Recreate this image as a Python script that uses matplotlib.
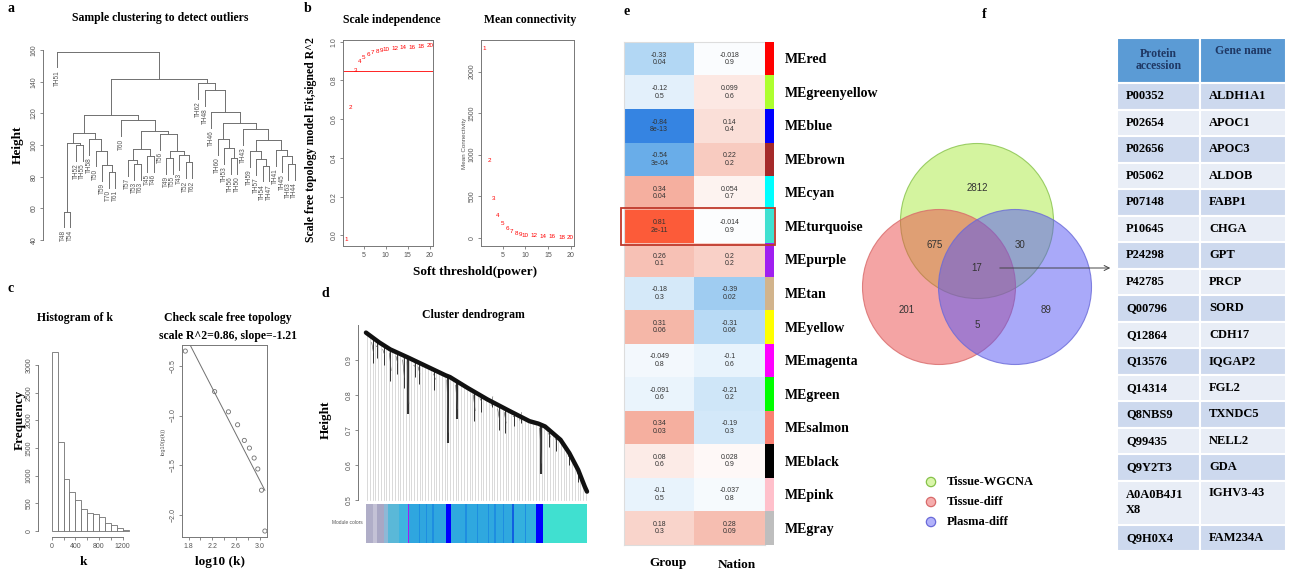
import numpy as np
import matplotlib
matplotlib.use("Agg")
import matplotlib.pyplot as plt
from matplotlib.patches import Ellipse, Rectangle
from matplotlib.colors import LinearSegmentedColormap

# ---------------- data ----------------
# a: sample dendrogram, (left, right, merge height)
sample_tree = ("TH51",
    ((((("T48", "T54", 58), ("TH52", "TH55", 100), 101),
       ("TH58", ("T50", ("T59", ("T70", "T61", 83), 87.5), 96.5), 104), 107.5),
      ("T60",
       ((("T57", ("T53", "T63", 88), 90.5), ("T45", "T46", 93), 97.5),
        ("T56", (("T49", "T55", 92), ("T43", ("T52", "T62", 89), 94), 96.5), 107), 109),
       115.5), 119),
     ("TH62",
      ("TH48",
       ("TH46",
        (("TH60", ("TH53", ("TH56", "TH50", 92), 98), 104),
         ("TH43",
          (("TH59", ("TH57", ("TH54", "TH47", 87), 91), 96),
           ("TH41", ("TH45", ("TH63", "TH44", 88), 93), 97), 103), 110), 114),
        121), 134.5), 139), 141.5),
    159)

# b: soft threshold
powers = [1, 2, 3, 4, 5, 6, 7, 8, 9, 10, 12, 14, 16, 18, 20]
sft_r2 = [-0.02, 0.66, 0.85, 0.90, 0.92, 0.935, 0.945, 0.95, 0.955, 0.96, 0.965, 0.97, 0.972, 0.975, 0.978]
mean_k = [2280, 925, 467, 268, 170, 110, 75, 55, 42, 33, 22, 15, 11, 8, 6]
r2_cut = 0.85

# c: connectivity histogram + scale free fit
hist_edges = [0, 100, 200, 300, 400, 500, 600, 700, 800, 900, 1000, 1100, 1200, 1300]
hist_counts = [3230, 1610, 940, 695, 556, 390, 315, 297, 255, 145, 103, 42, 12]
log_k = [1.743, 2.24, 2.474, 2.629, 2.743, 2.829, 2.909, 2.971, 3.034, 3.091]
log_pk = [-0.353, -0.76, -0.963, -1.093, -1.25, -1.327, -1.427, -1.537, -1.75, -2.16]

# d: gene dendrogram (envelope, droops) and module colours
env_x = [0.0, 0.06, 0.11, 0.19, 0.27, 0.36, 0.38, 0.46, 0.55, 0.65, 0.74, 0.78, 0.81, 0.88, 0.92, 0.96, 0.99, 1.0]
env_h = [0.978, 0.95, 0.93, 0.907, 0.883, 0.856, 0.851, 0.82, 0.787, 0.754, 0.725, 0.718, 0.71, 0.672, 0.634, 0.586, 0.538, 0.524]
droops = [(0.03, 0.96, 0.89), (0.05, 0.95, 0.905), (0.08, 0.94, 0.885), (0.11, 0.93, 0.84),
          (0.14, 0.92, 0.86), (0.17, 0.91, 0.82), (0.19, 0.905, 0.745), (0.22, 0.895, 0.85),
          (0.24, 0.89, 0.83), (0.31, 0.87, 0.815), (0.37, 0.853, 0.663), (0.41, 0.838, 0.73),
          (0.49, 0.81, 0.725), (0.52, 0.80, 0.75), (0.57, 0.78, 0.765), (0.60, 0.77, 0.70),
          (0.63, 0.76, 0.69), (0.67, 0.748, 0.71), (0.70, 0.738, 0.72), (0.79, 0.715, 0.575),
          (0.83, 0.70, 0.65), (0.86, 0.685, 0.64), (0.92, 0.634, 0.60), (0.96, 0.586, 0.55)]
module_segments = [(0.00, 0.03, "#b0aec8"), (0.03, 0.05, "#c4c2d6"), (0.05, 0.08, "#a9a7c4"),
                   (0.08, 0.10, "#8fb8d6"), (0.10, 0.15, "#5ab8d8"), (0.15, 0.19, "#3fb4e0"),
                   (0.19, 0.196, "#a020f0"), (0.196, 0.36, "#2fa6df"), (0.36, 0.385, "#0000ff"),
                   (0.385, 0.66, "#2fa8df"), (0.66, 0.668, "#1060e0"), (0.668, 0.77, "#33b0de"),
                   (0.77, 0.80, "#0000ff"), (0.80, 1.0, "#40e0d0")]
module_stripes = [0.24, 0.27, 0.30, 0.45, 0.50, 0.55, 0.58, 0.62, 0.72]

# e: module-trait relationships
modules = ["MEred", "MEgreenyellow", "MEblue", "MEbrown", "MEcyan", "MEturquoise", "MEpurple",
           "MEtan", "MEyellow", "MEmagenta", "MEgreen", "MEsalmon", "MEblack", "MEpink", "MEgray"]
module_colors = ["#FF0000", "#ADFF2F", "#0000FF", "#A52A2A", "#00FFFF", "#40E0D0", "#A020F0",
                 "#D2B48C", "#FFFF00", "#FF00FF", "#00FF00", "#FA8072", "#000000", "#FFC0CB", "#BEBEBE"]
traits = ["Group", "Nation"]
group_r = [-0.33, -0.12, -0.84, -0.54, 0.34, 0.81, 0.26, -0.18, 0.31, -0.049, -0.091, 0.34, 0.08, -0.1, 0.18]
group_p = ["0.04", "0.5", "8e-13", "3e-04", "0.04", "2e-11", "0.1", "0.3", "0.06", "0.8", "0.6", "0.03", "0.6", "0.5", "0.3"]
nation_r = [-0.018, 0.099, 0.14, 0.22, 0.054, -0.014, 0.2, -0.39, -0.31, -0.1, -0.21, -0.19, 0.028, -0.037, 0.28]
nation_p = ["0.9", "0.6", "0.4", "0.2", "0.7", "0.9", "0.2", "0.02", "0.06", "0.6", "0.2", "0.3", "0.9", "0.8", "0.09"]
highlight = "MEturquoise"

# f: venn + table
venn_sets = ["Tissue-WGCNA", "Tissue-diff", "Plasma-diff"]
venn_counts = {"G": 2812, "GR": 675, "GB": 30, "GRB": 17, "R": 201, "RB": 5, "B": 89}
accessions = ["P00352", "P02654", "P02656", "P05062", "P07148", "P10645", "P24298", "P42785", "Q00796",
              "Q12864", "Q13576", "Q14314", "Q8NBS9", "Q99435", "Q9Y2T3", "A0A0B4J1\nX8", "Q9H0X4"]
gene_names = ["ALDH1A1", "APOC1", "APOC3", "ALDOB", "FABP1", "CHGA", "GPT", "PRCP", "SORD",
              "CDH17", "IQGAP2", "FGL2", "TXNDC5", "NELL2", "GDA", "IGHV3-43", "FAM234A"]

# ---------------- helpers ----------------
W, H = 1295, 572
fig = plt.figure(figsize=(W / 100, H / 100), dpi=100)
SERIF = "Liberation Serif"
SANS = "Liberation Sans"
AX = "#777777"
TK = "#555555"


def box(x0, y0, x1, y1):
    return fig.add_axes([x0 / W, 1 - y1 / H, (x1 - x0) / W, (y1 - y0) / H])


def ftext(x, y, s, size=9, bold=True, family=SERIF, **kw):
    fig.text(x / W, 1 - y / H, s, fontsize=size, fontweight="bold" if bold else "normal",
             family=family, **kw)


def r_style(ax, spines=("left", "bottom", "right", "top")):
    for k, sp in ax.spines.items():
        sp.set_visible(k in spines)
        sp.set_color(AX)
        sp.set_linewidth(0.7)
    ax.tick_params(length=2.5, width=0.6, color=AX, labelsize=5, labelcolor=TK, pad=1.5)
    for lab in ax.get_xticklabels() + ax.get_yticklabels():
        lab.set_family(SANS)
    ax.tick_params(axis="y", labelrotation=90)
    for lab in ax.get_yticklabels():
        lab.set_va("center")
    ax.set_facecolor("none")


# ---------------- a ----------------
HANG = 10
ax = box(43, 38, 300, 250)


def draw_tree(ax, node, order):
    if isinstance(node, str):
        order.append(node)
        return len(order) - 1, None
    left, right, h = node
    xl, hl = draw_tree(ax, left, order)
    xr, hr = draw_tree(ax, right, order)
    for x, hc, child in ((xl, hl, left), (xr, hr, right)):
        bottom = hc if hc is not None else h - HANG
        ax.plot([x, x], [bottom, h], color="#707070", lw=0.7)
        if hc is None:
            ax.text(x, bottom - 1.5, child, rotation=90, ha="center", va="top",
                    fontsize=4.7, color="#555", family=SANS)
    ax.plot([xl, xr], [h, h], color="#707070", lw=0.7)
    return (xl + xr) / 2, h


leaf_order = []
draw_tree(ax, sample_tree, leaf_order)
ax.set_xlim(-2.2, len(leaf_order) - 0.2)
ax.set_ylim(33.7, 167.6)
ax.set_yticks(range(40, 161, 20))
ax.set_xticks([])
r_style(ax, spines=("left",))
ax.spines["left"].set_bounds(40, 160)
ftext(8, 12, "a", 10)
ftext(160, 18, "Sample clustering to detect outliers", 8.5, ha="center", va="center")
ftext(18, 145, "Height", 9.5, rotation=90, ha="center", va="center")

# ---------------- b ----------------
ax = box(343, 40, 433, 246)
for p, v in zip(powers, sft_r2):
    ax.text(p, v, str(p), color="red", fontsize=4.5, ha="center", va="center", family=SANS)
ax.axhline(r2_cut, color="red", lw=0.6)
ax.set_xlim(0.24, 20.76)
ax.set_ylim(-0.055, 1.0085)
ax.set_xticks([5, 10, 15, 20])
ax.set_yticks([0, 0.2, 0.4, 0.6, 0.8, 1.0])
r_style(ax)

ax = box(481, 40, 574, 246)
for p, v in zip(powers, mean_k):
    ax.text(p, v, str(p), color="red", fontsize=4.5, ha="center", va="center", family=SANS)
ax.set_xlim(0.24, 20.76)
ax.set_ylim(-99, 2379)
ax.set_xticks([5, 10, 15, 20])
ax.set_yticks([0, 500, 1000, 1500, 2000])
r_style(ax)
ax.set_ylabel("Mean Connectivity", fontsize=4.5, color=TK, family=SANS, labelpad=1)

ftext(304, 12, "b", 10)
ftext(392, 20, "Scale independence", 8.5, ha="center", va="center")
ftext(530, 20, "Mean connectivity", 8.5, ha="center", va="center")
ftext(311, 140, "Scale free topology model Fit,signed R^2", 8.5, rotation=90, ha="center", va="center")
ftext(475, 272, "Soft threshold(power)", 9.5, ha="center", va="center")

# ---------------- c ----------------
ax = box(38, 340, 130, 537)
ax.bar(hist_edges[:-1], hist_counts, width=100, align="edge", facecolor="white",
       edgecolor="#707070", lw=0.6)
ax.set_xlim(-231, 1323)
ax.set_ylim(-114, 3455)
ax.set_xticks(range(0, 1201, 200))
ax.set_xticklabels(["0", "", "400", "", "800", "", "1200"])
ax.set_yticks(range(0, 3001, 500))
r_style(ax, spines=("left", "bottom"))
ax.spines["left"].set_bounds(0, 3000)
ax.spines["bottom"].set_bounds(0, 1200)
ftext(8, 292, "c", 10)
ftext(75, 318, "Histogram of k", 8.5, ha="center", va="center")
ftext(20, 420, "Frequency", 9.5, rotation=90, ha="center", va="center")
ftext(83, 562, "k", 9.5, ha="center", va="center")

ax = box(182, 345, 267, 537)
ax.scatter(log_k, log_pk, s=9, facecolors="none", edgecolors="#707070", linewidths=0.6)
slope, icept = np.polyfit(log_k, log_pk, 1)
kx = np.array([min(log_k), max(log_k)])
ax.plot(kx, icept + slope * kx, color="#707070", lw=0.7)
ax.set_xlim(1.687, 3.127)
ax.set_ylim(-2.22, -0.292)
ax.set_xticks([1.8, 2.0, 2.2, 2.4, 2.6, 2.8, 3.0])
ax.set_xticklabels(["1.8", "", "2.2", "", "2.6", "", "3.0"])
ax.set_yticks([-2.0, -1.5, -1.0, -0.5])
r_style(ax)
ax.set_ylabel("log10(p(k))", fontsize=4, color=TK, family=SANS, labelpad=3)
ftext(228, 318, "Check scale free topology", 8.5, ha="center", va="center")
ftext(228, 336, "scale R^2=0.86, slope=-1.21", 8.5, ha="center", va="center")
ftext(220, 562, "log10 (k)", 9.5, ha="center", va="center")

# ---------------- d ----------------
ax = box(358, 320, 590, 503)
for gx in np.linspace(0.005, 0.995, 80):
    ax.plot([gx, gx], [0.5, 1.0], color="#c4c4c4", lw=0.45, zorder=1)
ax.fill_between(env_x, env_h, 1.1, color="white", zorder=2)
for dx, top, bottom in droops:
    lw = 1.5 if top - bottom > 0.1 else 0.7
    ax.plot([dx, dx], [bottom, top], color="#333", lw=lw, zorder=3, solid_capstyle="butt")
    ax.plot([dx - 0.004, dx + 0.004], [top - 0.01, bottom + 0.03], color="#555", lw=0.4, zorder=3)
ax.plot(env_x, env_h, color="#111", lw=3.2, zorder=4, solid_capstyle="round")
ax.set_xlim(-0.036, 1.0136)
ax.set_ylim(0.4914, 1.014)
ax.set_xticks([])
ax.set_yticks([0.5, 0.6, 0.7, 0.8, 0.9])
r_style(ax, spines=("left",))
ax.spines["left"].set_bounds(0.5, 1.0)

axm = box(366, 504, 587, 543)
for s0, s1, c in module_segments:
    axm.axvspan(s0, s1, color=c, lw=0)
for sx in module_stripes:
    axm.axvspan(sx, sx + 0.006, color="#1e8ee0", lw=0)
axm.set_xlim(0, 1)
axm.axis("off")
ftext(363, 523, "Module colors", 3.5, bold=False, family=SANS, color=TK, ha="right", va="center")
ftext(321, 297, "d", 10)
ftext(473, 315, "Cluster dendrogram", 8.5, ha="center", va="center")
ftext(326, 420, "Height", 9.5, rotation=90, ha="center", va="center")

# ---------------- e ----------------
cmap = LinearSegmentedColormap.from_list(
    "bwr_wgcna", [(0, "#1a6fdf"), (0.23, "#6aaeea"), (0.335, "#b4d8f5"), (0.5, "#ffffff"),
                  (0.67, "#f5b0a0"), (1.0, "#ff3a10")])
corr = np.array([group_r, nation_r]).T
pvals = np.array([group_p, nation_p]).T
ax = box(624, 42, 765, 545)
ax.imshow(corr, cmap=cmap, vmin=-1, vmax=1, aspect="auto", interpolation="nearest")
for i in range(len(modules)):
    for j in range(len(traits)):
        ax.text(j, i, f"{corr[i, j]:g}\n{pvals[i, j]}", ha="center", va="center",
                fontsize=5, color="#333", family=SANS, linespacing=1.1)
ax.set_xticks([])
ax.set_yticks([])
for sp in ax.spines.values():
    sp.set_color("#dddddd")
    sp.set_linewidth(0.8)

axs = box(765, 42, 774, 545)
axs.imshow(np.arange(len(modules)).reshape(-1, 1), cmap=matplotlib.colors.ListedColormap(module_colors),
           aspect="auto", interpolation="nearest")
axs.axis("off")

row_h = (545 - 42) / len(modules)
for i, m in enumerate(modules):
    ftext(785, 42 + (i + 0.5) * row_h + 1, m, 10, va="center")
ftext(668, 563, traits[0], 9.5, ha="center", va="center")
ftext(737, 565, traits[1], 9.5, ha="center", va="center")
ftext(623, 15, "e", 10)

# ---------------- f + overlays (pixel coordinates) ----------------
ov = fig.add_axes([0, 0, 1, 1])
ov.set_xlim(0, W)
ov.set_ylim(H, 0)
ov.axis("off")

hi = modules.index(highlight)
ov.add_patch(Rectangle((621, 42 + hi * row_h - 1.5), 154, row_h + 3, fill=False,
                       edgecolor="#c0392b", lw=1.3))

# venn
venn_style = [((977, 221), "#abeb41", "#86c24a"),
              ((939, 287), "#eb4b4b", "#d86a6a"),
              ((1015, 287), "#5555f5", "#6a6ad8")]
for (cx, cy), fc, ec in venn_style:
    ov.add_patch(Ellipse((cx, cy), 153, 155, facecolor=fc, alpha=0.5, edgecolor="none"))
    ov.add_patch(Ellipse((cx, cy), 153, 155, facecolor="none", edgecolor=ec, lw=0.8, alpha=0.8))
count_pos = {"G": (977, 188), "GR": (935, 245), "GB": (1020, 245), "GRB": (977, 268),
             "R": (907, 310), "RB": (977, 325), "B": (1046, 310)}
for key, (tx, ty) in count_pos.items():
    ov.text(tx, ty, str(venn_counts[key]), fontsize=7, color="#333", family=SANS,
            ha="center", va="center")
ov.annotate("", xy=(1113, 268), xytext=(997, 268),
            arrowprops=dict(arrowstyle="->", color="#444", lw=0.7, mutation_scale=9))
for k, name in enumerate(venn_sets):
    ly = 482 + k * 20
    fc, ec = venn_style[k][1], venn_style[k][2]
    ov.scatter([931], [ly], s=45, facecolors=fc, alpha=0.45, edgecolors="none")
    ov.scatter([931], [ly], s=45, facecolors="none", edgecolors=ec, linewidths=0.9)
    ov.text(947, ly, name, fontsize=9, fontweight="bold", family=SERIF, ha="left", va="center")
ftext(982, 18, "f", 10)

# table
tx0, tx1, tx2 = 1117, 1200, 1286
top = 38
ov.add_patch(Rectangle((tx0, top), tx1 - tx0, 45, facecolor="#5b9bd5", edgecolor="white", lw=1.5))
ov.add_patch(Rectangle((tx1, top), tx2 - tx1, 45, facecolor="#5b9bd5", edgecolor="white", lw=1.5))
ov.text((tx0 + tx1) / 2, top + 22, "Protein\naccession", fontsize=8.5, fontweight="bold",
        family=SERIF, color="#1f3864", ha="center", va="center", linespacing=1.05)
ov.text((tx1 + tx2) / 2, top + 13, "Gene name", fontsize=8.5, fontweight="bold",
        family=SERIF, color="#1f3864", ha="center", va="center")
y = top + 45
for k, (acc, gene) in enumerate(zip(accessions, gene_names)):
    rh = 44 if "\n" in acc else 26.5
    fc = "#cdd9ee" if k % 2 == 0 else "#e8edf6"
    ov.add_patch(Rectangle((tx0, y), tx1 - tx0, rh, facecolor=fc, edgecolor="white", lw=1.5))
    ov.add_patch(Rectangle((tx1, y), tx2 - tx1, rh, facecolor=fc, edgecolor="white", lw=1.5))
    ov.text(tx0 + 9, y + (rh / 2 if "\n" not in acc else 22), acc, fontsize=9, fontweight="bold",
            family=SERIF, ha="left", va="center", linespacing=1.3)
    ov.text(tx1 + 9, y + (rh / 2 if "\n" not in acc else 13), gene, fontsize=9, fontweight="bold",
            family=SERIF, ha="left", va="center")
    y += rh

fig.savefig("out.png", dpi=100, facecolor="white")
